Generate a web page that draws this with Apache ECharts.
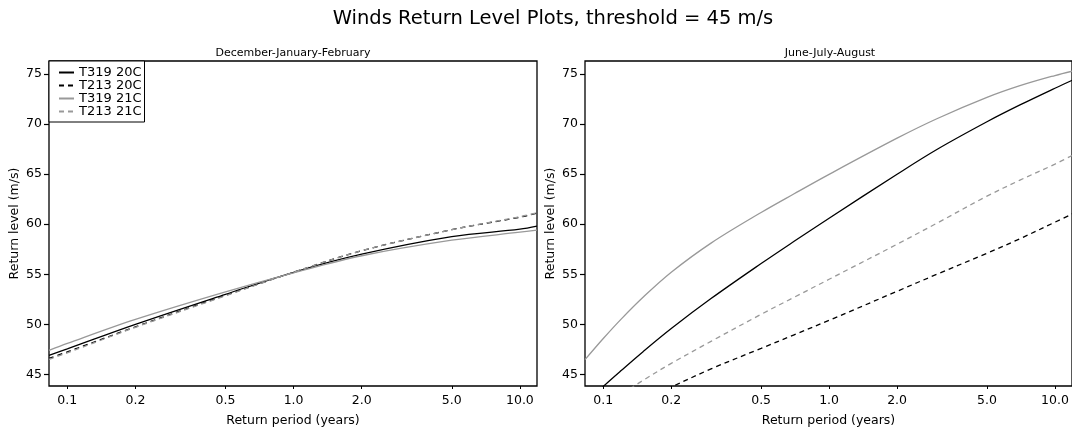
<!DOCTYPE html>
<html>
<head>
<meta charset="utf-8">
<script src="https://cdn.jsdelivr.net/npm/echarts@6/dist/echarts.min.js"></script>
<style>
html,body{margin:0;padding:0;background:#fff;}
#chart{width:1072px;height:432px;}
</style>
</head>
<body>
<div id="chart"></div>
<script>
// ---- data ----
const seriesNames = ['T319 20C', 'T213 20C', 'T319 21C', 'T213 21C'];
const xTickValues = [0.1, 0.2, 0.5, 1, 2, 5, 10];
const yTickValues = [45, 50, 55, 60, 65, 70, 75];

// December-January-February (return period in years -> return level m/s)
const periodsDJF = [0.083, 0.1, 0.2, 0.5, 1, 2, 5, 10, 11.9];
const djfT319_20C = [46.9, 47.55, 50.0, 53.0, 55.2, 57.0, 58.75, 59.5, 59.8];
const djfT213_20C = [46.6, 47.25, 49.75, 52.9, 55.2, 57.35, 59.45, 60.7, 61.1];
const djfT319_21C = [47.4, 48.1, 50.5, 53.25, 55.15, 56.85, 58.4, 59.2, 59.4];
const djfT213_21C = [46.5, 47.15, 49.7, 52.85, 55.2, 57.35, 59.45, 60.75, 61.15];

// June-July-August
const periodsJJA = [0.083, 0.1, 0.12, 0.15, 0.2, 0.3, 0.5, 0.7, 1, 2, 3, 5, 7, 10, 12];
const jjaT319_20C = [42.1, 43.8, 45.38, 47.27, 49.58, 52.57, 56.07, 58.29, 60.6, 64.99, 67.46, 70.23, 71.91, 73.58, 74.4];
const jjaT213_20C = [39.8, 40.6, 41.4, 42.4, 43.73, 45.55, 47.6, 48.95, 50.4, 53.3, 55.0, 57.1, 58.55, 60.2, 61.05];
const jjaT319_21C = [46.47, 48.58, 50.52, 52.7, 55.2, 58.11, 61.17, 63.04, 64.98, 68.59, 70.53, 72.66, 73.83, 74.85, 75.3];
const jjaT213_21C = [40.6, 41.8, 43.0, 44.4, 46.1, 48.3, 51.0, 52.7, 54.5, 58.0, 60.1, 62.8, 64.4, 66.0, 66.9];

// ---- styling ----
const FONT = 'DejaVu Sans';
const styles = [
  {color: '#000000', type: 'solid'},
  {color: '#000000', type: [5, 4]},
  {color: '#999999', type: 'solid'},
  {color: '#999999', type: [5, 4]}
];

function pairs(xs, ys) { return xs.map((x, i) => [x, ys[i]]); }

const djfSets = [djfT319_20C, djfT213_20C, djfT319_21C, djfT213_21C];
const jjaSets = [jjaT319_20C, jjaT213_20C, jjaT319_21C, jjaT213_21C];

function makeX(gi) {
  return {
    gridIndex: gi, type: 'log', logBase: 10, min: 0.083, max: 11.9,
    axisLine: {show: false},
    splitLine: {show: false},
    axisTick: {show: true, length: 3, customValues: xTickValues, lineStyle: {color: '#000', width: 1}},
    axisLabel: {
      customValues: xTickValues, margin: 8, color: '#000', fontFamily: FONT, fontSize: 12.5,
      formatter: v => Number(v).toFixed(1)
    },
    name: 'Return period (years)', nameLocation: 'middle', nameGap: 28,
    nameTextStyle: {color: '#000', fontFamily: FONT, fontSize: 12.5}
  };
}
function makeY(gi) {
  return {
    gridIndex: gi, type: 'value', min: 43.84, max: 76.3,
    axisLine: {show: false},
    splitLine: {show: false},
    axisTick: {show: true, length: 5, customValues: yTickValues, lineStyle: {color: '#000', width: 1.2}},
    axisLabel: {customValues: yTickValues, margin: 7, color: '#000', fontFamily: FONT, fontSize: 12.5},
    name: 'Return level (m/s)', nameLocation: 'middle', nameGap: 28,
    nameTextStyle: {color: '#000', fontFamily: FONT, fontSize: 12.5}
  };
}

const series = [];
[[djfSets, periodsDJF, 0], [jjaSets, periodsJJA, 1]].forEach(([sets, xs, gi]) => {
  seriesNames.forEach((nm, i) => {
    series.push({
      name: nm, type: 'line', xAxisIndex: gi, yAxisIndex: gi,
      data: pairs(xs, sets[i]), symbol: 'none', showSymbol: false, smooth: 0.35,
      clip: true, lineStyle: {color: styles[i].color, type: styles[i].type, width: 1.3},
      itemStyle: {color: styles[i].color}
    });
  });
});

const chart = echarts.init(document.getElementById('chart'), null, {renderer: 'canvas'});
chart.setOption({
  animation: false,
  backgroundColor: '#fff',
  grid: [
    {left: 49, top: 61, width: 488, height: 325.5, show: true, borderColor: '#000', borderWidth: 1.3, backgroundColor: 'transparent', containLabel: false},
    {left: 585, top: 61, width: 488, height: 325.5, show: true, borderColor: '#000', borderWidth: 1.3, backgroundColor: 'transparent', containLabel: false}
  ],
  xAxis: [makeX(0), makeX(1)],
  yAxis: [makeY(0), makeY(1)],
  legend: {
    data: seriesNames, orient: 'vertical', left: 49, top: 61,
    padding: [5, 3, 4, 9], itemGap: 0, itemWidth: 15, itemHeight: 10,
    borderColor: '#000', borderWidth: 1, backgroundColor: '#fff',
    itemStyle: {opacity: 0},
    textStyle: {color: '#000', fontFamily: FONT, fontSize: 13, lineHeight: 13},
    selectedMode: false
  },
  graphic: [
    {type: 'text', x: 553, y: 19, style: {text: 'Winds Return Level Plots, threshold = 45 m/s', font: '19.5px "DejaVu Sans"', fill: '#000', textAlign: 'center', textVerticalAlign: 'middle'}},
    {type: 'text', x: 293, y: 53, style: {text: 'December-January-February', font: '11px "DejaVu Sans"', fill: '#000', textAlign: 'center', textVerticalAlign: 'middle'}},
    {type: 'text', x: 830, y: 53, style: {text: 'June-July-August', font: '11px "DejaVu Sans"', fill: '#000', textAlign: 'center', textVerticalAlign: 'middle'}}
  ],
  series: series
});
</script>
</body>
</html>
